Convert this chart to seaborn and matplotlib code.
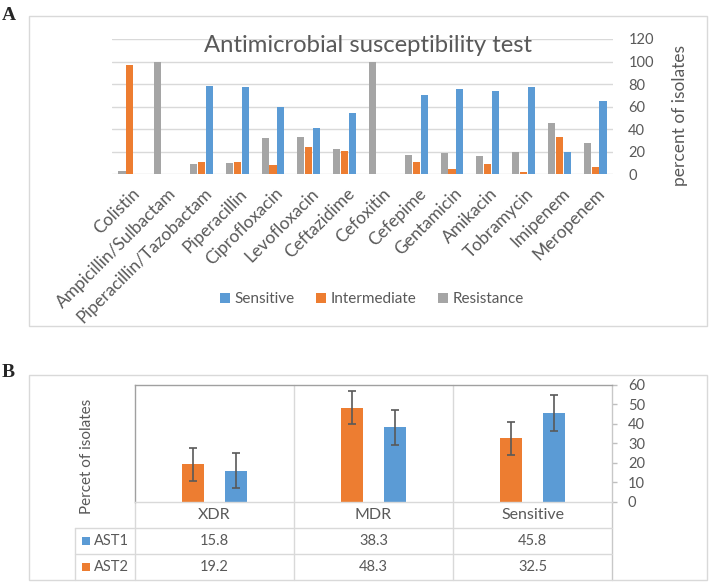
import pandas as pd
import numpy as np
import matplotlib.pyplot as plt
import seaborn as sns
from matplotlib.patches import Rectangle
from matplotlib.transforms import blended_transform_factory, ScaledTranslation

# Panel A data: antimicrobial susceptibility (% of isolates)
drugs = ['Colistin', 'Ampicillin/Sulbactam', 'Piperacillin/Tazobactam', 'Piperacillin',
         'Ciprofloxacin', 'Levofloxacin', 'Ceftazidime', 'Cefoxitin', 'Cefepime',
         'Gentamicin', 'Amikacin', 'Tobramycin', 'Imipenem', 'Meropenem']
sensitive = [0, 0, 78.3, 77.4, 59.3, 41.5, 54.6, 0, 70.6, 75.7, 74.2, 77.4, 20.2, 64.7]
intermediate = [96.7, 0, 11.3, 11.3, 8.0, 24.6, 21.0, 0, 11.3, 4.7, 8.9, 2.0, 33.2, 6.2]
resistance = [3.0, 100, 9.5, 10.4, 32.3, 33.2, 22.8, 100, 17.2, 19.0, 16.3, 19.6, 45.4, 27.9]

# Panel B data
groups = ['XDR', 'MDR', 'Sensitive']
ast1 = [15.8, 38.3, 45.8]
ast2 = [19.2, 48.3, 32.5]
ast1_err = [9.0, 9.0, 9.2]
ast2_err = [8.6, 8.5, 8.5]

blue, orange, gray = '#5B9BD5', '#ED7D31', '#A5A5A5'
txt = '#595959'

sns.set_style('white')
plt.rcParams['font.family'] = ['Lato', 'DejaVu Sans']

W, H = 711, 582
fig = plt.figure(figsize=(W / 100, H / 100), dpi=100)


def fr(x0, y0, x1, y1):
    # pixel box (top-left origin) -> figure fraction rect
    return [x0 / W, 1 - y1 / H, (x1 - x0) / W, (y1 - y0) / H]


# outer frames
for (x0, y0, x1, y1) in [(29, 16, 707, 326), (29, 375, 707, 580)]:
    r = fr(x0, y0, x1, y1)
    fig.add_artist(Rectangle((r[0], r[1]), r[2], r[3], transform=fig.transFigure,
                             fill=False, ec='#d9d9d9', lw=1))

fig.text(2 / W, 1 - 20 / H, 'A', family='Liberation Serif', fontweight='bold', fontsize=14, va='baseline')
fig.text(2 / W, 1 - 377 / H, 'B', family='Liberation Serif', fontweight='bold', fontsize=14, va='baseline')

# ---------------- Panel A ----------------
axA = fig.add_axes(fr(112, 39, 613, 174.3))
dfa = pd.DataFrame({
    'drug': drugs * 3,
    'value': sensitive + intermediate + resistance,
    'result': ['Sensitive'] * len(drugs) + ['Intermediate'] * len(drugs) + ['Resistance'] * len(drugs),
})
sns.barplot(data=dfa, x='drug', y='value', hue='result',
            hue_order=['Resistance', 'Intermediate', 'Sensitive'],
            palette={'Sensitive': blue, 'Intermediate': orange, 'Resistance': gray},
            width=0.66, gap=0.1, saturation=1, errorbar=None, linewidth=0, ax=axA)
axA.set_xlim(-0.5, len(drugs) - 0.5)
axA.set_ylim(0, 120)
axA.set_yticks(range(0, 121, 20))
axA.yaxis.tick_right()
axA.tick_params(axis='y', length=0, pad=11, labelsize=10.5, labelcolor=txt)
axA.tick_params(axis='x', length=0, pad=8, labelsize=12.5, labelcolor=txt)
axA.set_xticks(range(len(drugs)))
axA.set_xticklabels(drugs, rotation=45, ha='right', va='top', rotation_mode='anchor')
for lbl in axA.get_xticklabels():
    lbl.set_transform(lbl.get_transform() + ScaledTranslation(2 / 100, 0, fig.dpi_scale_trans))
axA.grid(axis='y', color='#d9d9d9', lw=1)
axA.set_axisbelow(True)
for s in axA.spines.values():
    s.set_visible(False)
axA.set_xlabel('')
axA.set_ylabel('percent of isolates', fontsize=12.5, color=txt, rotation=90)
axA.yaxis.set_label_position('right')
axA.yaxis.set_label_coords((672 - 112) / 501, (174.3 - 116) / 135.3)
axA.text(368 / W, 1 - 45 / H, 'Antimicrobial susceptibility test', transform=fig.transFigure,
         ha='center', va='center', fontsize=17.2, color=txt)
h, l = axA.get_legend_handles_labels()
axA.legend(h[::-1], l[::-1], loc='center', bbox_to_anchor=(372 / W, 1 - 299 / H),
           bbox_transform=fig.transFigure, ncol=3, frameon=False, fontsize=11,
           handlelength=0.65, handleheight=0.65, handletextpad=0.3, columnspacing=1.4,
           labelcolor=txt)

# ---------------- Panel B ----------------
axB = fig.add_axes(fr(135, 385, 612, 501.7))
dfb = pd.DataFrame({
    'group': groups * 2,
    'value': ast2 + ast1,
    'series': ['AST2'] * len(groups) + ['AST1'] * len(groups),
})
sns.barplot(data=dfb, x='group', y='value', hue='series', hue_order=['AST2', 'AST1'],
            palette={'AST1': blue, 'AST2': orange}, width=0.53, gap=0.48,
            saturation=1, errorbar=None, linewidth=0, legend=False, ax=axB)
for cont, errs in zip(axB.containers, [ast2_err, ast1_err]):
    xs = [b.get_x() + b.get_width() / 2 for b in cont]
    ys = [b.get_height() for b in cont]
    axB.errorbar(xs, ys, yerr=errs, fmt='none', ecolor='#595959', elinewidth=1.2,
                 capsize=3, capthick=1.2)
axB.set_xlim(-0.5, len(groups) - 0.5)
axB.set_ylim(0, 60)
axB.set_yticks(range(0, 61, 10))
axB.yaxis.tick_right()
axB.tick_params(axis='y', direction='out', length=3.5, width=1, color='#bfbfbf',
                pad=8, labelsize=10.5, labelcolor=txt)
axB.tick_params(axis='x', length=0, labelbottom=False)
axB.set_xlabel('')
axB.set_ylabel('')
axB.spines['top'].set_color('#a0a0a0')
axB.spines['left'].set_color('#a0a0a0')
axB.spines['right'].set_color('#c8c8c8')
axB.spines['bottom'].set_color('#d9d9d9')
for s in axB.spines.values():
    s.set_linewidth(1)
axB.text((87 - 135) / 477, (501.7 - 456) / 116.7, 'Percet of isolates', transform=axB.transAxes,
         rotation=90, ha='center', va='center', fontsize=11, color=txt)

# data table under panel B
bl = blended_transform_factory(axB.transData, axB.transAxes)
line_kw = dict(color='#d9d9d9', lw=1, transform=bl, clip_on=False)
y_r1, y_r2, y_bot = -0.2228, -0.448, -0.671
x_left = -0.5 - (135 - 75) * 3 / 477
for xb in [0.5, 1.5]:
    axB.plot([xb, xb], [1, y_bot], **line_kw)
axB.plot([-0.5, -0.5], [0, y_bot], **line_kw)
axB.plot([2.5, 2.5], [0, y_bot], color='#c8c8c8', lw=1, transform=bl, clip_on=False)
axB.plot([x_left, x_left], [y_r1, y_bot], **line_kw)
for yr in [y_r1, y_r2]:
    axB.plot([x_left, 2.5], [yr, yr], **line_kw)

for i, g in enumerate(groups):
    axB.text(i, -0.111, g, transform=bl, ha='center', va='center', fontsize=11.5, color=txt)
    axB.text(i, -0.335, f'{ast1[i]:.1f}', transform=bl, ha='center', va='center', fontsize=10.5, color=txt)
    axB.text(i, -0.56, f'{ast2[i]:.1f}', transform=bl, ha='center', va='center', fontsize=10.5, color=txt)

x_sq = -0.5 - (135 - 86) * 3 / 477
x_lab = -0.5 - (135 - 94) * 3 / 477
for yy, name, col in [(-0.335, 'AST1', blue), (-0.56, 'AST2', orange)]:
    axB.scatter([x_sq], [yy], marker='s', s=26, color=col, transform=bl, clip_on=False, linewidths=0)
    axB.text(x_lab, yy, name, transform=bl, ha='left', va='center', fontsize=10.5, color=txt)

fig.savefig('out.png', dpi=100)
